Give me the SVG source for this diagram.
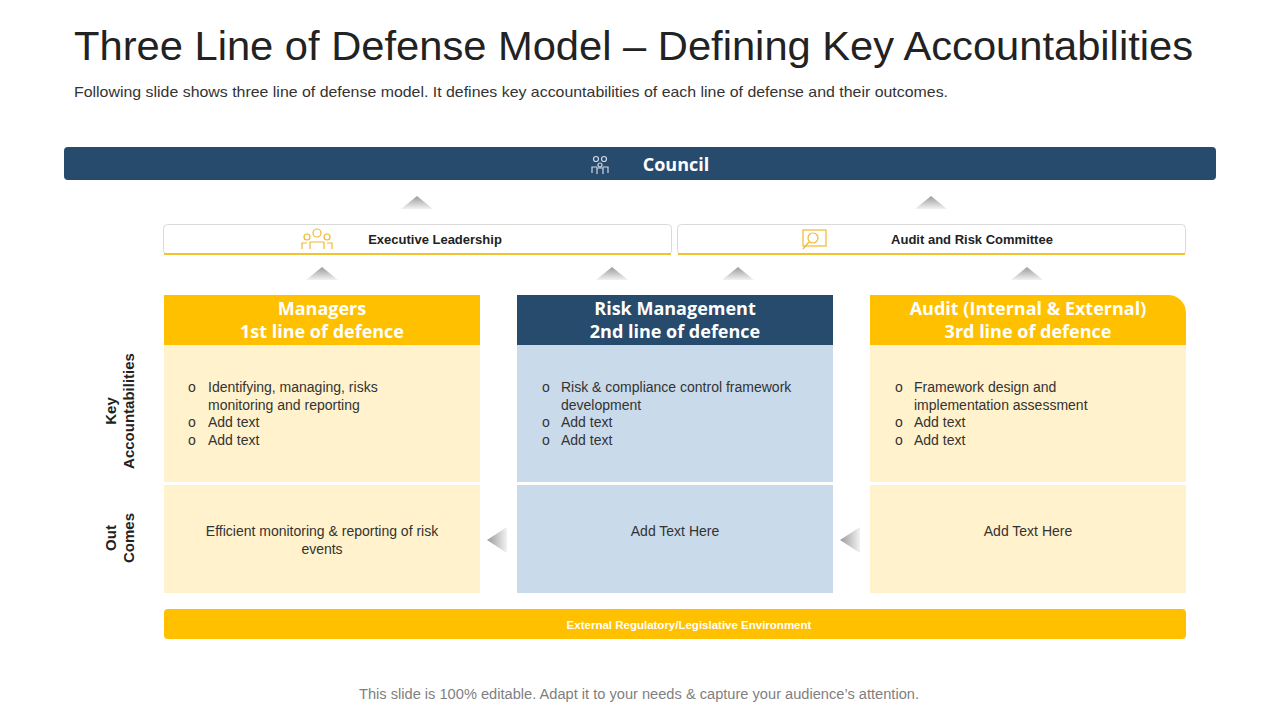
<svg xmlns="http://www.w3.org/2000/svg" width="1280" height="720" viewBox="0 0 1280 720">
<defs>
<linearGradient id="tri" x1="0" y1="0" x2="0" y2="1"><stop offset="0" stop-color="#9a9a9a"/><stop offset="1" stop-color="#f2f2f2"/></linearGradient>
<linearGradient id="triL" x1="0" y1="0" x2="1" y2="0"><stop offset="0" stop-color="#9a9a9a"/><stop offset="1" stop-color="#f2f2f2"/></linearGradient>
<style>
text{font-family:"Liberation Sans",Arial,sans-serif}
.hd{font-family:"Open Sans","Liberation Sans",sans-serif;font-weight:bold;fill:#fff;font-size:18px;text-anchor:middle}
.bd{font-size:14px;fill:#333}
.lb{font-weight:bold;font-size:13px;fill:#222;text-anchor:middle}
.side{font-weight:bold;font-size:15px;fill:#222;text-anchor:middle}
</style>
</defs>
<rect width="1280" height="720" fill="#fff"/>
<text x="74" y="60" font-size="40" fill="#222" textLength="1119" lengthAdjust="spacingAndGlyphs">Three Line of Defense Model – Defining Key Accountabilities</text>
<text x="74" y="97" font-size="15" fill="#333" textLength="874" lengthAdjust="spacingAndGlyphs">Following slide shows three line of defense model. It defines key accountabilities of each line of defense and their outcomes.</text>

<g id="council">
<rect x="64" y="147" width="1152" height="33" rx="4" fill="#274B6D"/>
<g fill="none" stroke="#cfd8e3" stroke-width="1.2"><circle cx="596" cy="159" r="2.5"/><circle cx="604" cy="159" r="2.5"/><circle cx="600" cy="165" r="2"/><path d="M592 173v-6h5M608 173v-6h-5M597 174v-6h6v6"/></g>
<text x="676" y="171" class="hd" font-size="21">Council</text>
</g>

<g id="connectors">
<polygon points="401,209 417,196 433,209" fill="url(#tri)"/>
<polygon points="915,209 931,196 947,209" fill="url(#tri)"/>
<polygon points="306,280 322,267 338,280" fill="url(#tri)"/>
<polygon points="596,280 612,267 628,280" fill="url(#tri)"/>
<polygon points="722,280 738,267 754,280" fill="url(#tri)"/>
<polygon points="1011,280 1027,267 1043,280" fill="url(#tri)"/>
<polygon points="487,540 507,527 507,553" fill="url(#triL)"/>
<polygon points="840,540 860,527 860,553" fill="url(#triL)"/>
</g>

<g id="exec">
<rect x="163.5" y="224.5" width="508" height="30" rx="4" fill="#fff" stroke="#d9d9d9"/>
<line x1="164" y1="254" x2="671" y2="254" stroke="#f2c230" stroke-width="2"/>
<g fill="none" stroke="#f2b830" stroke-width="1.2"><circle cx="317" cy="233" r="4"/><circle cx="307" cy="237" r="3"/><circle cx="327" cy="237" r="3"/><path d="M310 249v-7h14v7M302 249v-6h5M332 249v-6h-5"/></g>
<text x="435" y="244" class="lb">Executive Leadership</text>
</g>

<g id="auditcommittee">
<rect x="677.5" y="224.5" width="508" height="30" rx="4" fill="#fff" stroke="#d9d9d9"/>
<line x1="678" y1="254" x2="1185" y2="254" stroke="#f2c230" stroke-width="2"/>
<g fill="none" stroke="#f2b830" stroke-width="1.2"><rect x="803" y="230" width="23" height="16"/><circle cx="813" cy="238" r="5"/><path d="M809 242l-6 7"/></g>
<text x="972" y="244" class="lb">Audit and Risk Committee</text>
</g>

<g id="col1">
<rect x="164" y="295" width="316" height="50" fill="#FFC000"/>
<text x="322" y="315" class="hd">Managers</text>
<text x="322" y="338" class="hd">1st line of defence</text>
<rect x="164" y="345" width="316" height="137" fill="#FFF2CC"/>
<rect x="164" y="485" width="316" height="108" fill="#FFF2CC"/>
<g class="bd"><text x="188" y="392">o</text><text x="208" y="392">Identifying,  managing, risks</text><text x="208" y="410">monitoring and reporting</text>
<text x="188" y="427">o</text><text x="208" y="427">Add text</text><text x="188" y="445">o</text><text x="208" y="445">Add text</text></g>
<text x="322" y="536" class="bd" text-anchor="middle">Efficient monitoring &amp; reporting of risk</text>
<text x="322" y="554" class="bd" text-anchor="middle">events</text>
</g>

<g id="col2">
<rect x="517" y="295" width="316" height="50" fill="#274B6D"/>
<text x="675" y="315" class="hd">Risk Management</text>
<text x="675" y="338" class="hd">2nd line of defence</text>
<rect x="517" y="345" width="316" height="137" fill="#C9DAEA"/>
<rect x="517" y="485" width="316" height="108" fill="#C9DAEA"/>
<g class="bd"><text x="542" y="392">o</text><text x="561" y="392">Risk &amp; compliance control framework</text><text x="561" y="410">development</text>
<text x="542" y="427">o</text><text x="561" y="427">Add text</text><text x="542" y="445">o</text><text x="561" y="445">Add text</text></g>
<text x="675" y="536" class="bd" text-anchor="middle">Add Text Here</text>
</g>

<g id="col3">
<path d="M870 295H1168a18 18 0 0 1 18 18V345H870Z" fill="#FFC000"/>
<text x="1028" y="315" class="hd">Audit (Internal &amp; External)</text>
<text x="1028" y="338" class="hd">3rd line of defence</text>
<rect x="870" y="345" width="316" height="137" fill="#FFF2CC"/>
<rect x="870" y="485" width="316" height="108" fill="#FFF2CC"/>
<g class="bd"><text x="895" y="392">o</text><text x="914" y="392">Framework design and</text><text x="914" y="410">implementation assessment</text>
<text x="895" y="427">o</text><text x="914" y="427">Add text</text><text x="895" y="445">o</text><text x="914" y="445">Add text</text></g>
<text x="1028" y="536" class="bd" text-anchor="middle">Add Text Here</text>
</g>

<g id="sidelabels">
<text transform="translate(116,411) rotate(-90)" class="side">Key</text>
<text transform="translate(134,411) rotate(-90)" class="side">Accountabilities</text>
<text transform="translate(116,538) rotate(-90)" class="side">Out</text>
<text transform="translate(134,538) rotate(-90)" class="side">Comes</text>
</g>

<g id="external">
<rect x="164" y="609" width="1022" height="30" rx="4" fill="#FFC000"/>
<text x="689" y="629" font-size="11.5" font-weight="bold" fill="#fff" text-anchor="middle">External Regulatory/Legislative Environment</text>
</g>

<text x="639" y="699" font-size="14" fill="#7f7f7f" text-anchor="middle" textLength="560" lengthAdjust="spacingAndGlyphs">This slide is 100% editable. Adapt it to your needs &amp; capture your audience’s attention.</text>
</svg>
